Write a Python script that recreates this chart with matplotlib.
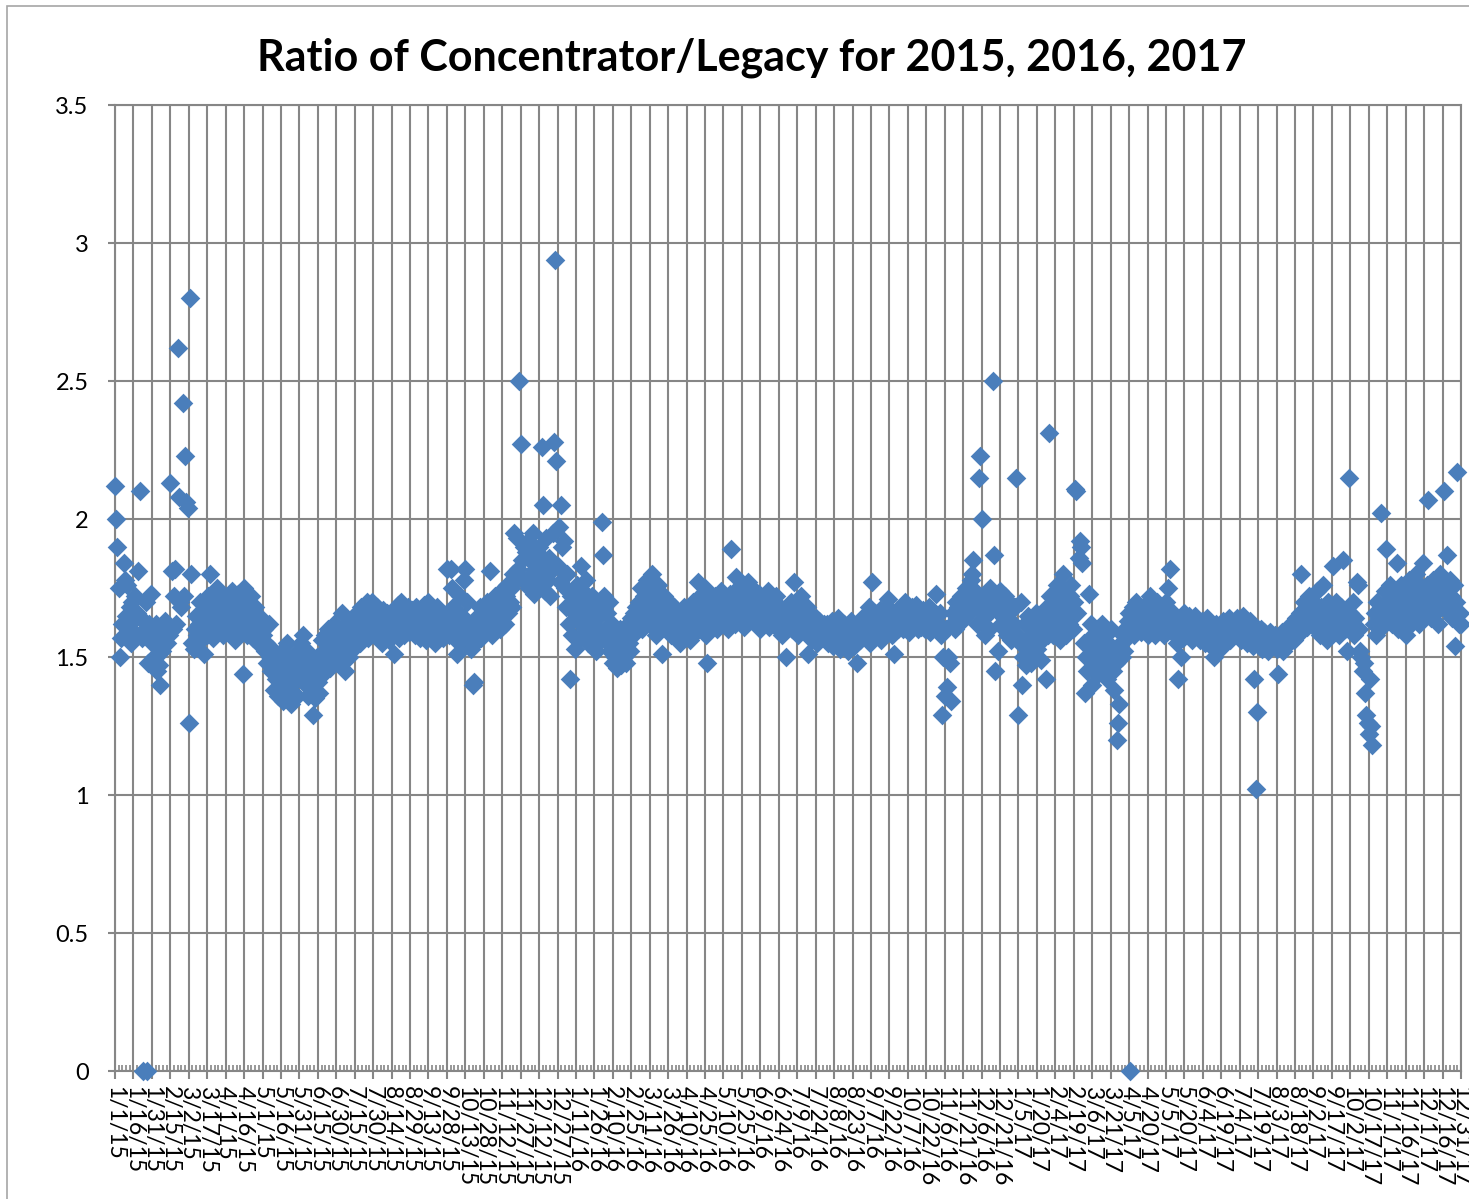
import numpy as np
import matplotlib
matplotlib.use('Agg')
import matplotlib.pyplot as plt
from matplotlib.patches import Rectangle

plt.rcParams['font.family'] = ['Lato', 'DejaVu Sans']

# daily ratio values, one inner list per month (Jan..Dec)
ratio_2015 = [
    [2.12, 2.00, 1.90, 1.75, 1.50, 1.57, 1.62, 1.84, 1.78, 1.65, 1.76, 1.60, 1.68, 1.55, 1.70, 1.63,
     1.72, 1.58, 1.66, 1.81, 2.10, 1.64, 1.57, 0.0, 1.60, 1.70, 0.0, 1.48, 1.62, 1.73, 1.55],
    [1.58, 1.50, 1.62, 1.45, 1.55, 1.47, 1.40, 1.52, 1.60, 1.57, 1.63, 1.55, 1.61, 1.58, 2.13, 1.81,
     1.60, 1.72, 1.82, 1.62, 2.62, 2.08, 1.70, 1.68, 2.42, 1.72, 2.23, 2.06],
    [2.04, 1.26, 2.80, 1.80, 1.55, 1.53, 1.60, 1.65, 1.58, 1.62, 1.70, 1.56, 1.64, 1.51, 1.60, 1.68,
     1.58, 1.72, 1.80, 1.62, 1.66, 1.57, 1.70, 1.63, 1.75, 1.60, 1.67, 1.72, 1.62, 1.58, 1.65],
    [1.68, 1.60, 1.72, 1.65, 1.58, 1.74, 1.62, 1.70, 1.56, 1.66, 1.73, 1.60, 1.64, 1.69, 1.44, 1.75,
     1.62, 1.58, 1.70, 1.66, 1.61, 1.72, 1.57, 1.63, 1.68, 1.60, 1.55, 1.65, 1.59, 1.62],
    [1.58, 1.60, 1.52, 1.55, 1.48, 1.62, 1.50, 1.45, 1.53, 1.38, 1.47, 1.42, 1.50, 1.36, 1.44, 1.40,
     1.52, 1.34, 1.46, 1.42, 1.55, 1.38, 1.48, 1.33, 1.44, 1.50, 1.41, 1.46, 1.36, 1.52, 1.43],
    [1.55, 1.48, 1.58, 1.44, 1.40, 1.52, 1.36, 1.47, 1.42, 1.38, 1.29, 1.45, 1.35, 1.50, 1.41, 1.37,
     1.48, 1.56, 1.44, 1.52, 1.58, 1.47, 1.60, 1.53, 1.46, 1.55, 1.50, 1.62, 1.57, 1.52],
    [1.55, 1.60, 1.48, 1.58, 1.66, 1.52, 1.45, 1.57, 1.62, 1.50, 1.59, 1.55, 1.64, 1.53, 1.60, 1.57,
     1.66, 1.62, 1.55, 1.68, 1.60, 1.58, 1.65, 1.63, 1.70, 1.57, 1.66, 1.61, 1.70, 1.59, 1.64],
    [1.62, 1.68, 1.58, 1.65, 1.60, 1.55, 1.67, 1.63, 1.59, 1.66, 1.61, 1.56, 1.64, 1.58, 1.62, 1.51,
     1.66, 1.60, 1.69, 1.57, 1.63, 1.70, 1.61, 1.58, 1.66, 1.62, 1.68, 1.59, 1.64, 1.60, 1.67],
    [1.63, 1.58, 1.68, 1.61, 1.66, 1.57, 1.64, 1.60, 1.69, 1.62, 1.56, 1.65, 1.70, 1.59, 1.63, 1.67,
     1.60, 1.55, 1.64, 1.68, 1.61, 1.58, 1.66, 1.62, 1.57, 1.65, 1.60, 1.82, 1.63, 1.58],
    [1.82, 1.75, 1.68, 1.62, 1.58, 1.51, 1.60, 1.55, 1.72, 1.65, 1.57, 1.78, 1.82, 1.70, 1.62, 1.56,
     1.60, 1.53, 1.40, 1.41, 1.58, 1.64, 1.56, 1.61, 1.68, 1.57, 1.63, 1.59, 1.66, 1.62, 1.70],
    [1.60, 1.81, 1.64, 1.58, 1.68, 1.72, 1.62, 1.66, 1.70, 1.60, 1.74, 1.65, 1.68, 1.62, 1.72, 1.76,
     1.66, 1.70, 1.75, 1.68, 1.80, 1.95, 1.78, 1.93, 1.82, 2.50, 2.27, 1.85, 1.78, 1.90],
    [1.88, 1.78, 1.92, 1.75, 1.85, 1.80, 1.95, 1.73, 1.82, 1.88, 1.76, 1.90, 1.79, 2.26, 2.05, 1.84,
     1.74, 1.93, 1.78, 1.86, 1.72, 1.81, 1.95, 2.28, 2.94, 2.21, 1.83, 1.97, 1.77, 2.05, 1.90],
]

ratio_2016 = [
    [1.92, 1.75, 1.68, 1.80, 1.62, 1.42, 1.72, 1.58, 1.66, 1.53, 1.70, 1.76, 1.63, 1.57, 1.83, 1.68,
     1.74, 1.60, 1.78, 1.65, 1.55, 1.70, 1.62, 1.72, 1.58, 1.66, 1.52, 1.64, 1.60, 1.69, 1.56],
    [1.99, 1.87, 1.72, 1.60, 1.66, 1.55, 1.70, 1.52, 1.62, 1.48, 1.58, 1.50, 1.46, 1.55, 1.49, 1.60,
     1.47, 1.53, 1.50, 1.57, 1.48, 1.62, 1.55, 1.52, 1.64, 1.58, 1.66, 1.60, 1.68],
    [1.62, 1.70, 1.66, 1.75, 1.60, 1.72, 1.68, 1.64, 1.78, 1.70, 1.62, 1.74, 1.80, 1.66, 1.72, 1.58,
     1.68, 1.76, 1.63, 1.70, 1.51, 1.66, 1.72, 1.60, 1.67, 1.64, 1.70, 1.58, 1.65, 1.62, 1.68],
    [1.63, 1.58, 1.66, 1.60, 1.55, 1.64, 1.62, 1.68, 1.57, 1.65, 1.60, 1.66, 1.56, 1.63, 1.70, 1.61,
     1.67, 1.59, 1.77, 1.64, 1.72, 1.60, 1.68, 1.62, 1.75, 1.58, 1.48, 1.66, 1.70, 1.63],
    [1.68, 1.62, 1.72, 1.65, 1.60, 1.70, 1.66, 1.74, 1.62, 1.68, 1.71, 1.64, 1.69, 1.60, 1.73, 1.89,
     1.66, 1.70, 1.62, 1.79, 1.68, 1.75, 1.64, 1.70, 1.66, 1.72, 1.61, 1.68, 1.74, 1.77, 1.65],
    [1.70, 1.75, 1.64, 1.68, 1.72, 1.62, 1.66, 1.73, 1.60, 1.69, 1.65, 1.71, 1.63, 1.67, 1.74, 1.61,
     1.68, 1.64, 1.70, 1.62, 1.66, 1.72, 1.60, 1.65, 1.68, 1.62, 1.58, 1.66, 1.63, 1.50],
    [1.62, 1.68, 1.64, 1.70, 1.60, 1.77, 1.66, 1.62, 1.69, 1.58, 1.64, 1.72, 1.61, 1.66, 1.59, 1.63,
     1.68, 1.51, 1.60, 1.65, 1.56, 1.62, 1.58, 1.64, 1.55, 1.60, 1.63, 1.57, 1.61, 1.59, 1.62],
    [1.58, 1.62, 1.55, 1.60, 1.57, 1.63, 1.54, 1.59, 1.61, 1.56, 1.64, 1.58, 1.53, 1.60, 1.57, 1.62,
     1.55, 1.59, 1.52, 1.61, 1.56, 1.63, 1.58, 1.54, 1.60, 1.57, 1.48, 1.62, 1.56, 1.59, 1.64],
    [1.60, 1.65, 1.57, 1.62, 1.68, 1.55, 1.63, 1.77, 1.60, 1.66, 1.58, 1.64, 1.61, 1.67, 1.56, 1.63,
     1.59, 1.65, 1.62, 1.68, 1.71, 1.60, 1.64, 1.58, 1.66, 1.51, 1.62, 1.67, 1.60, 1.65],
    [1.63, 1.67, 1.60, 1.65, 1.70, 1.62, 1.66, 1.59, 1.64, 1.68, 1.61, 1.65, 1.62, 1.69, 1.60, 1.64,
     1.66, 1.61, 1.67, 1.63, 1.60, 1.65, 1.62, 1.68, 1.59, 1.64, 1.61, 1.66, 1.62, 1.73, 1.60],
    [1.62, 1.66, 1.58, 1.29, 1.50, 1.36, 1.60, 1.39, 1.50, 1.48, 1.34, 1.62, 1.66, 1.60, 1.70, 1.64,
     1.68, 1.62, 1.72, 1.66, 1.70, 1.64, 1.75, 1.68, 1.72, 1.66, 1.78, 1.80, 1.85, 1.70],
    [1.74, 1.62, 1.68, 2.15, 2.23, 2.00, 1.70, 1.64, 1.58, 1.72, 1.66, 1.60, 1.75, 1.68, 2.50, 1.87,
     1.45, 1.70, 1.52, 1.66, 1.74, 1.62, 1.68, 1.60, 1.72, 1.65, 1.58, 1.70, 1.63, 1.56, 1.68],
]

ratio_2017 = [
    [1.62, 1.68, 2.15, 1.58, 1.29, 1.55, 1.70, 1.40, 1.50, 1.62, 1.47, 1.56, 1.65, 1.52, 1.48, 1.60,
     1.55, 1.50, 1.66, 1.53, 1.58, 1.62, 1.49, 1.56, 1.64, 1.60, 1.42, 1.68, 1.58, 2.31, 1.72],
    [1.65, 1.58, 1.72, 1.62, 1.76, 1.60, 1.68, 1.56, 1.70, 1.80, 1.64, 1.74, 1.58, 1.68, 1.62, 1.72,
     1.76, 1.60, 1.70, 2.11, 2.10, 1.66, 1.86, 1.92, 1.90, 1.84, 1.55, 1.37],
    [1.50, 1.45, 1.73, 1.55, 1.62, 1.40, 1.58, 1.52, 1.48, 1.60, 1.44, 1.56, 1.50, 1.62, 1.53, 1.47,
     1.58, 1.42, 1.55, 1.50, 1.60, 1.52, 1.45, 1.38, 1.48, 1.20, 1.26, 1.33, 1.55, 1.50, 1.58],
    [1.52, 1.60, 1.57, 1.63, 1.66, 0.0, 1.62, 1.68, 1.58, 1.65, 1.70, 1.60, 1.64, 1.67, 1.59, 1.66,
     1.62, 1.69, 1.61, 1.58, 1.65, 1.72, 1.60, 1.64, 1.67, 1.58, 1.62, 1.70, 1.63, 1.66],
    [1.62, 1.68, 1.58, 1.65, 1.70, 1.60, 1.75, 1.82, 1.64, 1.60, 1.66, 1.58, 1.62, 1.55, 1.42, 1.60,
     1.50, 1.64, 1.57, 1.66, 1.60, 1.63, 1.58, 1.65, 1.61, 1.56, 1.63, 1.59, 1.65, 1.60, 1.62],
    [1.60, 1.56, 1.63, 1.58, 1.61, 1.55, 1.64, 1.59, 1.57, 1.62, 1.54, 1.60, 1.50, 1.58, 1.62, 1.56,
     1.60, 1.53, 1.59, 1.63, 1.57, 1.55, 1.61, 1.58, 1.64, 1.56, 1.60, 1.62, 1.58, 1.61],
    [1.60, 1.64, 1.58, 1.62, 1.56, 1.60, 1.65, 1.57, 1.61, 1.55, 1.59, 1.63, 1.56, 1.60, 1.54, 1.42,
     1.02, 1.30, 1.58, 1.55, 1.60, 1.53, 1.57, 1.59, 1.55, 1.58, 1.52, 1.56, 1.59, 1.54, 1.57],
    [1.56, 1.58, 1.53, 1.44, 1.57, 1.55, 1.59, 1.52, 1.56, 1.54, 1.58, 1.60, 1.55, 1.57, 1.62, 1.58,
     1.56, 1.60, 1.64, 1.58, 1.62, 1.66, 1.80, 1.60, 1.70, 1.63, 1.67, 1.61, 1.72, 1.65, 1.68],
    [1.62, 1.70, 1.66, 1.60, 1.74, 1.64, 1.58, 1.68, 1.62, 1.76, 1.60, 1.66, 1.56, 1.70, 1.63, 1.58,
     1.66, 1.83, 1.62, 1.70, 1.60, 1.65, 1.58, 1.68, 1.62, 1.85, 1.64, 1.60, 1.52, 1.66],
    [2.15, 1.66, 1.62, 1.70, 1.58, 1.64, 1.77, 1.76, 1.60, 1.52, 1.50, 1.45, 1.48, 1.37, 1.29, 1.26,
     1.22, 1.42, 1.25, 1.18, 1.62, 1.66, 1.58, 1.70, 1.64, 1.60, 2.02, 1.68, 1.62, 1.74, 1.89],
    [1.70, 1.64, 1.76, 1.68, 1.62, 1.74, 1.66, 1.72, 1.84, 1.60, 1.70, 1.76, 1.65, 1.72, 1.68, 1.58,
     1.74, 1.66, 1.78, 1.62, 1.70, 1.75, 1.64, 1.80, 1.68, 1.72, 1.62, 1.76, 1.66, 1.84],
    [1.72, 1.66, 1.76, 2.07, 1.68, 1.74, 1.64, 1.78, 1.70, 1.66, 1.75, 1.62, 1.72, 1.80, 1.68, 1.74,
     2.10, 1.70, 1.76, 1.87, 1.66, 1.78, 1.72, 1.64, 1.76, 1.54, 1.70, 2.17, 1.62, 1.66, 1.62],
]

y_ticks = [0, 0.5, 1, 1.5, 2, 2.5, 3, 3.5]
y_labels = ['0', '0.5', '1', '1.5', '2', '2.5', '3', '3.5']


def month_points(year, months):
    xs, ys = [], []
    for m, vals in enumerate(months, start=1):
        start = np.datetime64(f'{year}-{m:02d}-01')
        xs.append(start + np.arange(len(vals)))
        ys.extend(vals)
    return np.concatenate(xs), ys


dates, values = [], []
for yr, months in [(2015, ratio_2015), (2016, ratio_2016), (2017, ratio_2017)]:
    d, v = month_points(yr, months)
    dates.append(d)
    values.extend(v)
dates = np.concatenate(dates)

grid_col = '#868686'
fig = plt.figure(figsize=(14.69, 11.99), dpi=100)
ax = fig.add_axes([115 / 1469, 1 - 1071 / 1199, 1346 / 1469, 966 / 1199])

ax.scatter(dates, values, marker='D', s=100, color='#4A7EBB', linewidths=0,
           zorder=3, clip_on=False)

start, end = np.datetime64('2015-01-01'), np.datetime64('2017-12-31')
major = np.arange(start, end + 1, 15)
minor = np.arange(start, end + 1, 3)
ax.set_xlim(start, end)
ax.set_xticks(major)
ax.set_xticks(minor, minor=True)
ax.set_xticklabels([f"{d.month}/{d.day}/{d.year % 100}" for d in major.astype(object)],
                   rotation=-90, fontsize=16.5, va='top', ha='center')
ax.set_ylim(0, 3.5)
ax.set_yticks(y_ticks)
ax.set_yticklabels(y_labels, fontsize=17)

ax.set_axisbelow(True)
ax.grid(True, which='major', color=grid_col, linewidth=1.5)
for s in ax.spines.values():
    s.set_color(grid_col)
    s.set_linewidth(1.5)
ax.tick_params(axis='x', which='major', direction='out', length=6, width=1.5,
               color=grid_col, pad=5)
ax.tick_params(axis='x', which='minor', direction='in', length=4, width=1.2,
               color=grid_col)
ax.tick_params(axis='y', direction='out', length=5, width=1.5, color=grid_col, pad=14)

fig.text(0.512, 0.952, 'Ratio of Concentrator/Legacy for 2015, 2016, 2017',
         fontsize=31, fontweight='bold', ha='center', va='center')

fig.add_artist(Rectangle((6.5 / 1469, -0.01), 1.02, 1 - 5.5 / 1199 + 0.01,
                         transform=fig.transFigure, fill=False,
                         edgecolor='#a6a6a6', linewidth=1.2))

fig.savefig('out.png', dpi=100)
